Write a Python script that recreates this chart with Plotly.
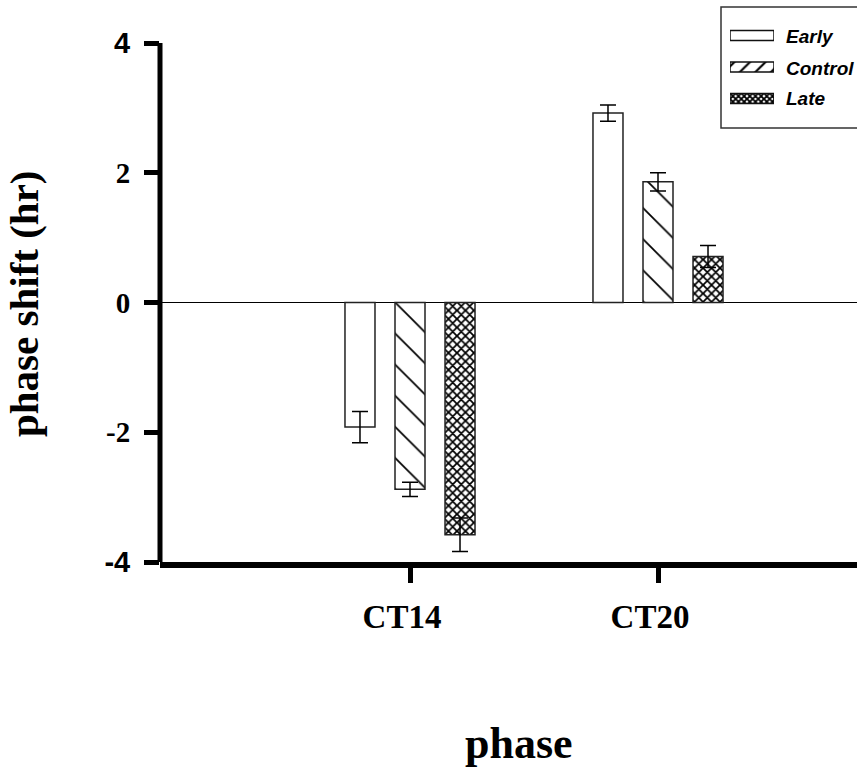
import plotly.graph_objects as go

# ---- data ----
phases = ["CT14", "CT20"]
groups = ["Early", "Control", "Late"]
early = [-1.92, 2.92]
early_err = [0.24, 0.125]
control = [-2.88, 1.86]
control_err = [0.11, 0.14]
late = [-3.58, 0.71]
late_err = [0.26, 0.17]
y_tickvals = [4, 2, 0, -2, -4]
y_ticktext = ['<span style="font-family:Liberation Sans, Arial">4</span>', "2", "0", "-2",
              '<span style="font-family:Liberation Sans, Arial">-4</span>']

# ---- layout geometry (pixels) ----
FIG_W, FIG_H = 857, 768
L, R_EDGE, T, B = 160, 857, 5, 562
W, H = R_EDGE - L, B - T
UNIT = (562 - 43) / 8.0
Y_TOP = 4 + (43 - T) / UNIT
CAT = 248.0
X_LO = -(410 - L) / CAT
X_HI = 1 + (R_EDGE - 658) / CAT


def px_x(p):
    return (p - L) / W


def px_y(p):
    return (B - p) / H


series = [
    ("Early", early, early_err, dict(shape="", fgcolor="black", bgcolor="white")),
    ("Control", control, control_err, dict(shape="\\", size=22, solidity=0.08, fgcolor="#000000",
                                           fgopacity=1, bgcolor="white", fillmode="replace")),
    ("Late", late, late_err, dict(shape="x", size=6, solidity=0.5, fgcolor="#000000",
                                  fgopacity=1, bgcolor="white", fillmode="replace")),
]

fig = go.Figure()
for name, vals, errs, pat in series:
    fig.add_trace(go.Bar(
        x=phases, y=vals, name=name, showlegend=False,
        marker=dict(color="white", line=dict(color="#222", width=1.5), pattern=pat),
        error_y=dict(type="data", array=errs, visible=True, color="black", thickness=1.5, width=8),
    ))

# legend swatches drawn as a tiny subplot
fig.add_trace(go.Bar(
    x=[1, 1, 1], y=groups, orientation="h", width=0.32, showlegend=False,
    xaxis="x2", yaxis="y2", hoverinfo="skip",
    marker=dict(color="white", line=dict(color="#111", width=1.5),
                pattern=dict(shape=["", "/", "x"], size=[8, 11, 4], solidity=[0.1, 0.2, 0.7],
                             fgcolor="#000000", fgopacity=1, bgcolor="white", fillmode="replace")),
))

fig.update_layout(
    width=FIG_W, height=FIG_H,
    margin=dict(l=L, r=FIG_W - R_EDGE, t=T, b=FIG_H - B, pad=0),
    paper_bgcolor="white", plot_bgcolor="white",
    barmode="group", bargap=0.395, bargroupgap=0.4,
    xaxis=dict(range=[X_LO, X_HI], showline=True, linewidth=6, linecolor="black",
               ticks="outside", ticklen=15, tickwidth=5, tickcolor="black",
               showgrid=False, zeroline=False,
               tickfont=dict(family="Liberation Serif, Times New Roman", size=33, color="black", weight="bold"),
               ticklabelstandoff=5, ticklabelshift=-8),
    yaxis=dict(range=[-4, Y_TOP], tickvals=y_tickvals, ticktext=y_ticktext,
               showline=False, ticks="outside", ticklen=15, tickwidth=5, tickcolor="black",
               showgrid=False, zeroline=True, zerolinecolor="black", zerolinewidth=1,
               tickfont=dict(family="Liberation Serif, Times New Roman", size=29, color="black", weight="bold"),
               ticklabelstandoff=8),
    xaxis2=dict(domain=[px_x(730), px_x(774)], range=[0, 1], anchor="y2", visible=False, fixedrange=True),
    yaxis2=dict(domain=[px_y(114.25), px_y(19.75)], type="category", categoryarray=groups,
                range=[2.5, -0.5], anchor="x2", visible=False, fixedrange=True),
    shapes=[
        dict(type="line", xref="paper", yref="y", x0=0, x1=0, y0=-4, y1=4,
             line=dict(color="black", width=5)),
        dict(type="rect", xref="paper", yref="paper", x0=px_x(721), x1=px_x(880),
             y0=px_y(128), y1=px_y(7), line=dict(color="#333", width=1.5)),
    ],
)

annotations = [
    dict(text="phase shift (hr)", xref="paper", yref="paper", x=px_x(24), y=px_y(304),
         textangle=-90, showarrow=False, xanchor="center", yanchor="middle",
         font=dict(family="Liberation Serif, Times New Roman", size=41, color="black", weight="bold")),
    dict(text="phase", xref="paper", yref="paper", x=px_x(519), y=px_y(743),
         showarrow=False, xanchor="center", yanchor="middle",
         font=dict(family="Liberation Serif, Times New Roman", size=44, color="black", weight="bold")),
]
for name, yc in zip(groups, [37, 68, 99]):
    annotations.append(dict(text=name, xref="paper", yref="paper", x=px_x(784), y=px_y(yc),
                            showarrow=False, xanchor="left", yanchor="middle",
                            font=dict(family="Liberation Sans, Arial", size=19, color="black",
                                      weight="bold", style="italic")))
fig.update_layout(annotations=annotations)

fig.write_html("out.html")
